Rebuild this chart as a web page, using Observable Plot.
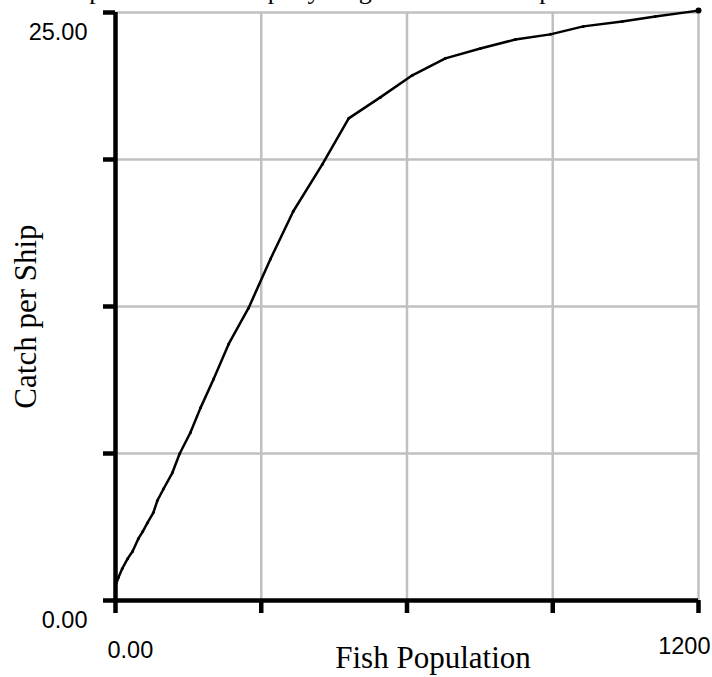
<!DOCTYPE html>
<html>
<head>
<meta charset="utf-8">
<script src="https://cdn.jsdelivr.net/npm/d3@7"></script>
<script src="https://cdn.jsdelivr.net/npm/@observablehq/plot@0.6"></script>
<style>
  html, body { margin: 0; padding: 0; background: #fff; overflow: hidden; }
  #wrap { position: relative; width: 712px; height: 677px; overflow: hidden; }
  #title { position: absolute; left: 22px; top: -22px; font-family: "Liberation Serif", "Times New Roman", serif;
           font-size: 26px; line-height: 26px; white-space: nowrap; color: #000; }
</style>
</head>
<body>
<div id="wrap">
  <div id="title">Catch per unit effort as per year given a total fish pool</div>
</div>
<script>
// Data
const fishPopulation = [0, 6, 14, 25, 35, 47, 56, 66, 78, 86, 99, 117, 132, 154, 175, 202, 233, 274, 319, 366, 426, 480, 545, 611, 679, 751, 823, 895, 963, 1043, 1111, 1200];
const catchPerShip   = [0.64, 0.98, 1.36, 1.78, 2.08, 2.63, 2.93, 3.31, 3.74, 4.24, 4.75, 5.43, 6.24, 7.13, 8.19, 9.42, 10.91, 12.44, 14.52, 16.55, 18.55, 20.50, 21.39, 22.33, 23.05, 23.47, 23.85, 24.07, 24.41, 24.62, 24.83, 25.08];
const xTicks = [0, 300, 600, 900, 1200];
const yTicks = [0, 6.25, 12.5, 18.75, 25];
const yTickLabels = [{v: 0, t: "0.00"}, {v: 25, t: "25.00"}];
const xTickLabelLeft = [{v: 0, t: "0.00"}];
const xTickLabelRight = [{v: 1200, t: "1200"}];
const xTitle = "Fish Population";
const yTitle = "Catch per Ship";

const data = fishPopulation.map((x, i) => ({x, y: catchPerShip[i]}));
const sans = "'Liberation Sans', Arial, sans-serif";
const serif = "'Liberation Serif', 'Times New Roman', serif";

const chart = Plot.plot({
  width: 712,
  height: 677,
  marginLeft: 115,
  marginRight: 14,
  marginTop: 12,
  marginBottom: 77,
  style: {background: "#fff", overflow: "visible"},
  x: {domain: [0, 1200]},
  y: {domain: [0, 25]},
  marks: [
    Plot.gridX(xTicks.slice(1), {stroke: "#c0c0c0", strokeOpacity: 1, strokeWidth: 2.5}),
    Plot.gridY(yTicks.slice(1), {stroke: "#c0c0c0", strokeOpacity: 1, strokeWidth: 2.5}),
    Plot.ruleX([0], {y1: 0, y2: 25, stroke: "#000", strokeWidth: 4.5}),
    Plot.ruleY([0], {x1: 0, x2: 1200, stroke: "#000", strokeWidth: 4.5}),
    Plot.axisY(yTicks, {tickSize: 12, tickFormat: () => "", label: null, stroke: "#000", strokeWidth: 4.5}),
    Plot.axisX(xTicks, {tickSize: 13, tickFormat: () => "", label: null, stroke: "#000", strokeWidth: 4.5}),
    Plot.text(yTickLabels, {x: 0, y: "v", text: "t", textAnchor: "end", dx: -28, dy: 20, fontSize: 23.5, fontFamily: sans, fill: "#000"}),
    Plot.text(xTickLabelLeft, {x: "v", y: 0, text: "t", textAnchor: "start", dx: -8, dy: 50, fontSize: 23.5, fontFamily: sans, fill: "#000"}),
    Plot.text(xTickLabelRight, {x: "v", y: 0, text: "t", textAnchor: "end", dx: 12, dy: 46, fontSize: 23.5, fontFamily: sans, fill: "#000"}),
    Plot.text([xTitle], {frameAnchor: "bottom", textAnchor: "middle", lineAnchor: "middle", dx: 26, dy: 58, fontSize: 31, fontFamily: serif, fill: "#000"}),
    Plot.text([yTitle], {frameAnchor: "left", textAnchor: "middle", lineAnchor: "middle", dx: -89, dy: 10, rotate: -90, fontSize: 31, fontFamily: serif, fill: "#000"}),
    Plot.line(data, {x: "x", y: "y", stroke: "#000", strokeWidth: 2.5}),
    Plot.dot(data, {x: "x", y: "y", r: 1.5, fill: "#000"}),
    Plot.dot(data.slice(-1), {x: "x", y: "y", r: 3, fill: "#000"})
  ]
});
document.getElementById("wrap").prepend(chart);
</script>
</body>
</html>
